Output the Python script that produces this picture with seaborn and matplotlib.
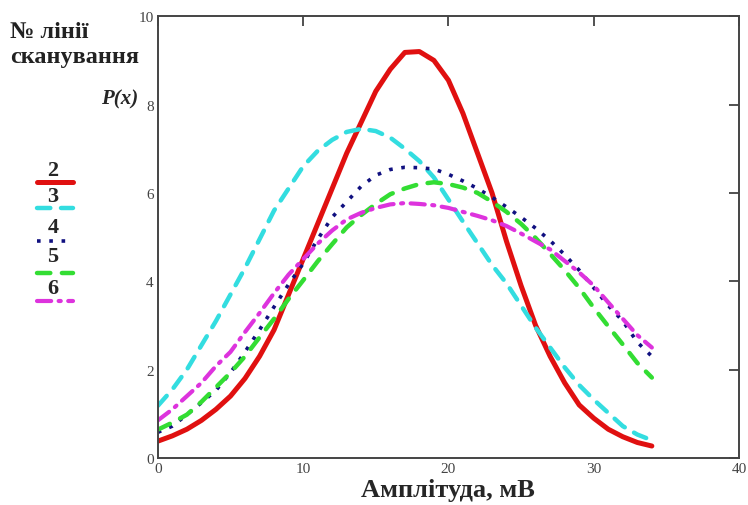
import matplotlib
matplotlib.use("Agg")
import matplotlib.pyplot as plt
import seaborn as sns
from matplotlib.lines import Line2D

# amplitude grid, mV
AMPL = list(range(35))

# P(x) for scan lines 2..6
P_LINE2 = [0.38, 0.5, 0.65, 0.85, 1.1, 1.4, 1.8, 2.3, 2.9, 3.7, 4.5, 5.3, 6.1, 6.9,
           7.6, 8.3, 8.8, 9.18, 9.2, 9.0, 8.55, 7.8, 6.9, 6.0, 4.9, 3.9, 3.0, 2.3,
           1.7, 1.2, 0.9, 0.65, 0.48, 0.35, 0.27]
P_LINE3 = [1.18, 1.55, 2.0, 2.55, 3.1, 3.7, 4.3, 4.95, 5.6, 6.1, 6.6, 6.95, 7.2, 7.38,
           7.45, 7.4, 7.25, 7.0, 6.72, 6.35, 5.85, 5.35, 4.86, 4.37, 3.95, 3.45, 2.95,
           2.5, 2.05, 1.65, 1.32, 1.02, 0.72, 0.53, 0.4]
P_LINE4 = [0.58, 0.72, 0.98, 1.25, 1.53, 1.93, 2.4, 2.9, 3.42, 3.93, 4.4, 4.95, 5.45,
           5.8, 6.15, 6.4, 6.53, 6.58, 6.57, 6.54, 6.42, 6.27, 6.1, 5.9, 5.68, 5.45,
           5.2, 4.92, 4.6, 4.25, 3.85, 3.45, 3.1, 2.62, 2.3]
P_LINE5 = [0.64, 0.8, 0.98, 1.27, 1.6, 1.93, 2.3, 2.73, 3.15, 3.6, 4.02, 4.45, 4.84,
           5.22, 5.5, 5.75, 5.97, 6.1, 6.2, 6.24, 6.2, 6.12, 6.0, 5.8, 5.57, 5.3, 4.98,
           4.62, 4.25, 3.85, 3.4, 2.98, 2.57, 2.15, 1.82]
P_LINE6 = [0.85, 1.1, 1.4, 1.7, 2.08, 2.4, 2.85, 3.28, 3.73, 4.15, 4.5, 4.85, 5.15,
           5.4, 5.55, 5.66, 5.74, 5.77, 5.75, 5.72, 5.66, 5.57, 5.48, 5.38, 5.25, 5.08,
           4.9, 4.72, 4.46, 4.2, 3.9, 3.52, 3.15, 2.78, 2.5]

LINE_NAMES = ["2", "3", "4", "5", "6"]
SERIES = [P_LINE2, P_LINE3, P_LINE4, P_LINE5, P_LINE6]

STYLES = [
    dict(color="#e01010", lw=3.6, linestyle="-", dash_capstyle="round"),
    dict(color="#33dde0", lw=3.2, linestyle=(0, (3.0, 2.4)), dash_capstyle="round"),
    dict(color="#101080", lw=2.6, linestyle=(0, (1, 2.4)), dash_capstyle="butt"),
    dict(color="#33dd33", lw=3.2, linestyle=(0, (3.0, 2.6)), dash_capstyle="round"),
    dict(color="#dd33dd", lw=3.0, linestyle=(0, (3.4, 1.8, 0.5, 1.8)), dash_capstyle="round"),
]

sns.set_style("white")
plt.rcParams["font.family"] = ["Liberation Serif", "DejaVu Serif"]

fig = plt.figure(figsize=(7.48, 5.06), dpi=100)
ax = fig.add_axes([0.211, 0.093, 0.777, 0.873])

for vals, st in zip(SERIES, STYLES):
    sns.lineplot(x=AMPL, y=vals, ax=ax, legend=False, solid_capstyle="round", **st)

ax.set_xlim(0, 40)
ax.set_ylim(0, 10)
ax.set_xticks(range(0, 41, 10))
ax.set_yticks(range(0, 11, 2))
ax.tick_params(direction="in", length=7, width=1.2, top=True, right=True,
               labelsize=11, labelcolor="#444444", color="#333333", pad=3)
for sp in ax.spines.values():
    sp.set_color("#444444")
    sp.set_linewidth(1.4)
ax.set_xlabel("Амплітуда, мВ", fontsize=19, fontweight="bold", labelpad=2)
ax.set_ylabel("")

# y label and legend title, placed like the original (Mathcad) layout
fig.text(0.185, 0.804, "P(x)", fontsize=15, fontweight="bold", fontstyle="italic",
         ha="right", va="center")
fig.text(0.013, 1 - 32 / 506, "№ лінії", fontsize=17.5, fontweight="bold",
         ha="left", va="center", color="#222222")
fig.text(0.013, 1 - 58 / 506, "сканування", fontsize=17.5, fontweight="bold",
         ha="left", va="center", color="#222222")

# hand-made legend: number on top of a line sample
num_y = [171, 197, 228, 257, 289]
seg_y = [183, 209, 242, 274, 302]
for name, st, ny, sy in zip(LINE_NAMES, STYLES, num_y, seg_y):
    fig.text(0.071, 1 - ny / 506, name, fontsize=16, fontweight="bold",
             ha="center", va="center")
    fig.add_artist(Line2D([37 / 748, 73 / 748], [1 - sy / 506, 1 - sy / 506],
                          transform=fig.transFigure, solid_capstyle="round", **st))

fig.savefig("out.png", dpi=100)
